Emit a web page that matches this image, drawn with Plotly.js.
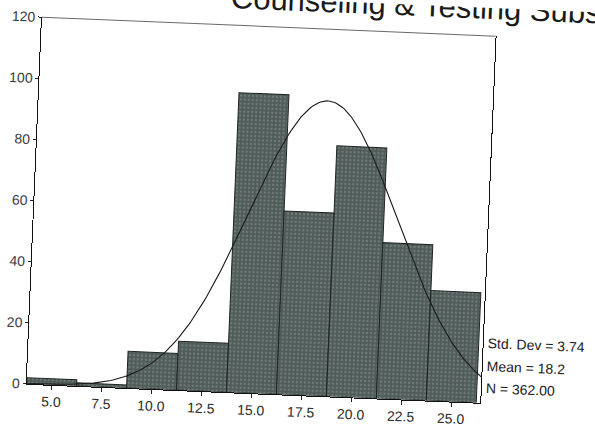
<!DOCTYPE html>
<html>
<head>
<meta charset="utf-8">
<script src="https://cdn.plot.ly/plotly-3.0.1.min.js"></script>
<style>
  html, body { margin: 0; padding: 0; background: #ffffff; overflow: hidden; }
  #wrap { width: 595px; height: 427px; overflow: hidden; position: relative; background: #fff; }
  #chart { width: 595px; height: 427px; transform: rotate(2.4deg); transform-origin: 50% 50%; }
</style>
</head>
<body>
<div id="wrap"><div id="chart"></div></div>
<script>
// Histogram bins (centres) and frequencies
const binCenters = [5.0, 7.5, 10.0, 12.5, 15.0, 17.5, 20.0, 22.5, 25.0];
const counts = [2, 1, 12, 16, 98, 60, 82, 51, 36];
const binWidth = 2.5;

// Axis ticks
const xTickVals = [5.0, 7.5, 10.0, 12.5, 15.0, 17.5, 20.0, 22.5, 25.0];
const xTickText = ['5.0', '7.5', '10.0', '12.5', '15.0', '17.5', '20.0', '22.5', '25.0'];
const yTickVals = [0, 20, 40, 60, 80, 100, 120];

// Summary statistics shown beside the plot
const stdDev = 3.74;
const mean = 18.2;
const nCases = 362;
const statLines = ['Std. Dev = 3.74', 'Mean = 18.2', 'N = 362.00'];

const titleText = 'Counseling & Testing Subscale';

const xRange = [3.75, 26.45];

// Fitted normal curve scaled to the histogram counts
const curveX = [];
const curveY = [];
const scale = nCases * binWidth / (stdDev * Math.sqrt(2 * Math.PI));
for (let i = 0; i <= 227; i++) {
  const x = xRange[0] + i * 0.1;
  curveX.push(x);
  curveY.push(scale * Math.exp(-0.5 * Math.pow((x - mean) / stdDev, 2)));
}

const font = 'Liberation Sans, Arial, sans-serif';

const bars = {
  type: 'bar',
  x: binCenters,
  y: counts,
  width: binWidth,
  marker: {
    color: '#505c59',
    line: { color: '#1e2422', width: 1 },
    pattern: { shape: '.', bgcolor: '#505c59', fgcolor: '#737e7b', size: 4, solidity: 0.25 }
  },
  hoverinfo: 'skip'
};

const curve = {
  type: 'scatter',
  mode: 'lines',
  x: curveX,
  y: curveY,
  line: { color: '#1a1a1a', width: 1.1 },
  hoverinfo: 'skip'
};

const statAnnotations = statLines.map((t, i) => ({
  text: t,
  xref: 'paper', yref: 'paper',
  x: 1, y: 0,
  xanchor: 'left', yanchor: 'middle',
  xshift: 3, yshift: 60 - i * 22.5,
  showarrow: false,
  font: { family: font, size: 14, color: '#1a1a1a' }
}));

const layout = {
  width: 595,
  height: 427,
  margin: { l: 34, r: 107, t: 28, b: 32 },
  paper_bgcolor: '#ffffff',
  plot_bgcolor: '#ffffff',
  showlegend: false,
  bargap: 0,
  xaxis: {
    range: xRange,
    tickvals: xTickVals,
    ticktext: xTickText,
    ticks: 'outside',
    ticklen: 4,
    tickcolor: '#222',
    showline: true,
    linecolor: '#111',
    linewidth: 1,
    showgrid: false,
    zeroline: false,
    tickfont: { family: font, size: 14, color: '#2a2a2a' }
  },
  yaxis: {
    range: [0, 120],
    tickvals: yTickVals,
    ticks: 'outside',
    ticklen: 3,
    tickcolor: '#222',
    showline: true,
    mirror: true,
    linecolor: '#111',
    linewidth: 1,
    showgrid: false,
    zeroline: false,
    tickfont: { family: font, size: 14, color: '#3a3a3a' }
  },
  shapes: [
    { type: 'line', xref: 'paper', yref: 'paper', x0: 0, x1: 1, y0: 1, y1: 1,
      line: { color: '#6a6a6a', width: 1 } }
  ],
  annotations: [
    {
      text: titleText,
      xref: 'paper', yref: 'paper',
      x: 0.41, y: 1,
      xanchor: 'left', yanchor: 'bottom',
      yshift: 8,
      showarrow: false,
      font: { family: font, size: 31, color: '#1a1a1a' }
    }
  ].concat(statAnnotations)
};

Plotly.newPlot('chart', [bars, curve], layout, { displayModeBar: false, staticPlot: true });
</script>
</body>
</html>
